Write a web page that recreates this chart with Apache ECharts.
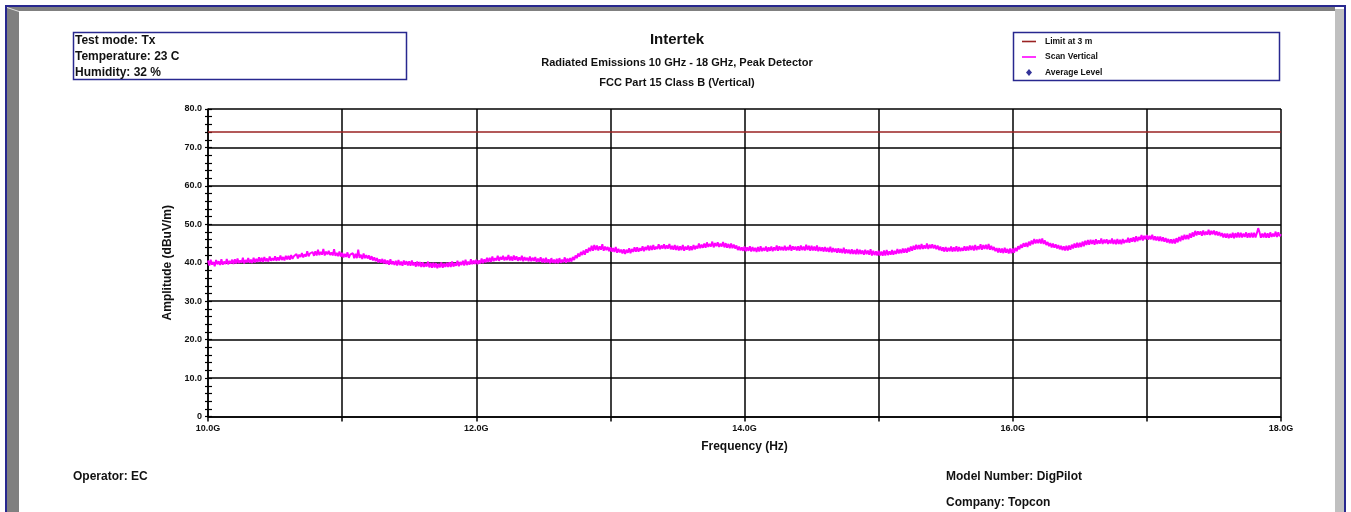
<!DOCTYPE html>
<html>
<head>
<meta charset="utf-8">
<script src="https://cdn.jsdelivr.net/npm/echarts@6/dist/echarts.min.js"></script>
<style>
html,body{margin:0;padding:0;background:#fff;}
#chart{width:1351px;height:512px;}
</style>
</head>
<body>
<div id="chart"></div>
<script>
// ---- data ----
const xTickValues = [10, 11, 12, 13, 14, 15, 16, 17, 18];
const yTickValues = [0, 10, 20, 30, 40, 50, 60, 70, 80];
const limitFreq = [10.0, 18.0];
const limitLevel = [74.0, 74.0];
const scanStartGHz = 10.0;
const scanStepGHz = 0.01;
// peak scan, dBuV/m, one row per 0.1 GHz
const scanLevel = [
  40.6, 39.3, 40.8, 39.5, 40.2, 39.1, 40.7, 39.6, 40.4, 39.4,
  40.9, 39.5, 40.3, 39.7, 41.0, 39.6, 40.5, 39.8, 40.8, 39.7,
  40.9, 39.8, 41.1, 39.9, 40.6, 40.0, 41.3, 39.8, 40.7, 40.1,
  41.2, 40.0, 40.8, 39.9, 41.3, 40.1, 41.0, 40.2, 41.4, 40.3,
  41.3, 40.2, 41.5, 40.4, 41.1, 40.3, 41.6, 40.5, 41.2, 40.6,
  41.7, 40.5, 41.4, 40.6, 41.9, 40.7, 41.5, 40.6, 41.8, 40.9,
  41.8, 40.8, 42.0, 41.0, 41.7, 41.2, 42.3, 41.1, 42.1, 41.5,
  42.5, 41.4, 42.2, 41.6, 43.0, 41.7, 42.4, 41.9, 42.8, 41.8,
  43.0, 41.9, 43.4, 42.0, 42.8, 42.1, 43.6, 41.9, 42.9, 42.2,
  43.1, 42.0, 42.7, 41.9, 43.5, 41.8, 42.6, 41.7, 42.9, 41.6,
  42.6, 41.4, 42.3, 41.5, 42.7, 41.3, 42.1, 41.6, 42.5, 41.2,
  42.3, 41.2, 43.4, 41.3, 42.1, 41.0, 42.4, 41.2, 42.0, 41.1,
  41.9, 40.8, 41.7, 40.6, 41.4, 40.4, 41.2, 40.1, 40.9, 40.0,
  41.0, 39.8, 40.8, 39.7, 40.6, 39.5, 40.9, 39.6, 40.4, 39.4,
  40.5, 39.3, 40.7, 39.4, 40.3, 39.2, 40.6, 39.5, 40.4, 39.3,
  40.4, 39.2, 40.6, 39.3, 40.1, 39.0, 40.3, 39.1, 40.2, 38.9,
  40.1, 38.9, 39.8, 39.0, 40.3, 38.8, 39.9, 38.7, 40.0, 38.8,
  39.9, 38.6, 39.7, 38.8, 40.1, 38.7, 39.8, 38.9, 40.0, 38.9,
  40.1, 38.9, 40.3, 39.0, 39.9, 39.2, 40.5, 39.1, 40.2, 39.4,
  40.5, 39.3, 40.8, 39.4, 40.3, 39.5, 40.9, 39.6, 40.6, 39.7,
  40.8, 39.6, 40.6, 39.8, 41.1, 39.9, 40.9, 40.1, 41.3, 40.2,
  41.3, 40.2, 41.6, 40.4, 41.2, 40.6, 41.8, 40.5, 41.5, 40.8,
  41.8, 40.6, 41.5, 40.7, 42.0, 40.6, 41.6, 40.5, 41.9, 40.7,
  41.7, 40.5, 41.4, 40.6, 41.8, 40.4, 41.5, 40.6, 41.3, 40.4,
  41.6, 40.4, 41.3, 40.5, 41.5, 40.2, 41.1, 40.3, 41.4, 40.1,
  41.1, 40.0, 41.3, 40.1, 40.9, 39.9, 41.2, 40.0, 40.8, 39.9,
  41.0, 39.9, 41.2, 40.0, 40.8, 40.1, 41.4, 40.0, 41.1, 40.2,
  41.2, 40.3, 41.5, 40.7, 41.9, 41.2, 42.4, 41.6, 42.8, 42.0,
  43.2, 42.1, 43.5, 42.6, 43.9, 43.0, 44.4, 43.1, 44.6, 43.3,
  44.5, 43.2, 44.3, 43.4, 44.8, 43.1, 44.2, 43.3, 44.1, 43.0,
  44.0, 42.9, 43.8, 42.8, 44.1, 42.6, 43.6, 42.7, 43.4, 42.4,
  43.5, 42.3, 43.4, 42.6, 43.8, 42.5, 43.6, 42.8, 44.0, 42.9,
  44.0, 42.9, 43.8, 43.1, 44.3, 43.0, 44.1, 43.3, 44.5, 43.2,
  44.4, 43.3, 44.6, 43.4, 44.2, 43.6, 44.8, 43.5, 44.5, 43.7,
  44.8, 43.6, 44.5, 43.7, 44.9, 43.5, 44.4, 43.4, 44.6, 43.3,
  44.4, 43.2, 44.3, 43.3, 44.6, 43.1, 44.2, 43.4, 44.5, 43.2,
  44.3, 43.3, 44.6, 43.5, 44.4, 43.7, 45.0, 43.8, 44.7, 43.9,
  45.0, 43.9, 45.3, 44.1, 44.9, 44.2, 45.5, 44.0, 45.1, 44.3,
  45.3, 44.1, 45.0, 44.2, 45.4, 44.0, 45.1, 43.9, 44.9, 43.8,
  45.0, 43.8, 44.7, 43.7, 44.5, 43.3, 44.2, 43.2, 44.0, 43.1,
  44.2, 43.0, 44.0, 43.1, 44.3, 42.9, 44.1, 43.0, 43.9, 42.8,
  44.1, 42.9, 44.3, 43.0, 43.9, 43.1, 44.2, 42.9, 44.0, 43.1,
  44.2, 43.0, 44.0, 43.2, 44.5, 43.1, 44.3, 43.3, 44.1, 43.2,
  44.4, 43.2, 44.1, 43.3, 44.6, 43.1, 44.3, 43.4, 44.2, 43.2,
  44.3, 43.1, 44.5, 43.3, 44.2, 43.2, 44.7, 43.3, 44.4, 43.1,
  44.4, 43.2, 44.2, 43.1, 44.5, 43.0, 44.1, 43.1, 44.0, 42.9,
  44.1, 42.9, 43.9, 42.8, 44.2, 42.7, 43.8, 42.8, 43.7, 42.6,
  43.8, 42.6, 43.6, 42.5, 43.9, 42.4, 43.5, 42.5, 43.4, 42.3,
  43.5, 42.3, 43.3, 42.2, 43.6, 42.2, 43.4, 42.3, 43.2, 42.1,
  43.4, 42.2, 43.2, 42.1, 43.5, 41.9, 43.1, 42.0, 43.0, 41.9,
  43.1, 41.9, 42.9, 41.8, 43.2, 41.9, 43.3, 42.0, 43.0, 42.1,
  43.3, 42.1, 43.1, 42.3, 43.6, 42.4, 43.4, 42.5, 43.7, 42.6,
  43.7, 42.6, 43.9, 42.9, 44.2, 43.1, 44.4, 43.4, 44.7, 43.5,
  44.6, 43.5, 44.9, 43.6, 44.5, 43.7, 45.0, 43.6, 44.7, 43.8,
  44.8, 43.7, 44.6, 43.5, 44.5, 43.3, 44.2, 43.1, 44.0, 42.9,
  44.1, 42.9, 43.9, 43.0, 44.2, 42.9, 44.0, 43.0, 44.3, 42.9,
  44.1, 43.0, 43.9, 43.1, 44.3, 43.1, 44.2, 43.2, 44.5, 43.3,
  44.4, 43.2, 44.6, 43.3, 44.3, 43.5, 44.8, 43.4, 44.6, 43.6,
  44.7, 43.5, 44.9, 43.4, 44.4, 43.3, 44.1, 43.0, 43.8, 42.7,
  43.8, 42.6, 43.7, 42.5, 43.9, 42.6, 43.6, 42.4, 43.7, 42.5,
  43.7, 42.6, 43.9, 43.0, 44.3, 43.5, 44.7, 43.9, 45.1, 44.2,
  45.2, 44.1, 45.5, 44.5, 45.8, 44.8, 46.2, 45.0, 46.0, 45.1,
  46.2, 45.0, 46.3, 44.9, 45.8, 44.6, 45.4, 44.3, 45.1, 44.0,
  45.0, 43.9, 44.8, 43.7, 44.6, 43.5, 44.4, 43.3, 44.3, 43.2,
  44.4, 43.2, 44.5, 43.4, 44.7, 43.7, 45.0, 43.9, 45.2, 44.0,
  45.2, 44.1, 45.5, 44.3, 45.7, 44.6, 45.9, 44.7, 46.0, 44.9,
  45.9, 44.7, 46.1, 44.9, 45.8, 45.0, 46.3, 44.9, 46.0, 45.1,
  46.1, 44.9, 45.9, 45.0, 46.3, 44.9, 46.0, 44.8, 46.2, 44.9,
  46.0, 44.8, 46.2, 45.1, 45.9, 45.3, 46.5, 45.2, 46.4, 45.5,
  46.6, 45.4, 46.9, 45.6, 46.7, 45.9, 47.2, 45.8, 47.0, 46.1,
  47.2, 46.0, 47.0, 46.1, 47.3, 45.9, 46.9, 45.8, 46.8, 45.7,
  46.8, 45.6, 46.6, 45.5, 46.4, 45.3, 46.2, 45.1, 46.1, 45.0,
  46.2, 45.0, 46.4, 45.3, 46.7, 45.6, 47.0, 45.9, 47.3, 46.1,
  47.2, 46.1, 47.6, 46.5, 47.9, 46.8, 48.3, 47.1, 48.2, 47.3,
  48.2, 47.0, 48.4, 47.2, 48.1, 47.3, 48.6, 47.2, 48.3, 47.4,
  48.4, 47.2, 48.2, 47.1, 48.0, 46.9, 47.7, 46.6, 47.6, 46.5,
  47.6, 46.4, 47.5, 46.5, 47.8, 46.4, 47.7, 46.6, 47.9, 46.6,
  47.8, 46.6, 47.6, 46.7, 47.9, 46.5, 47.7, 46.6, 47.8, 46.6,
  47.8, 46.6, 47.7, 49.0, 47.9, 46.5, 47.6, 46.6, 47.8, 46.5,
  47.7, 46.5, 47.9, 46.7, 47.6, 46.8, 48.1, 46.7, 47.9, 46.9,
  47.4
];
const avgFreq = [];
const avgLevel = [];
const infoLines = ['Test mode: Tx', 'Temperature: 23 C', 'Humidity: 32 %'];
const legendNames = ['Limit at 3 m', 'Scan Vertical', 'Average Level'];

// ---- chart ----
const FONT = '"Liberation Sans", Arial, sans-serif';
const chart = echarts.init(document.getElementById('chart'), null, {renderer: 'canvas'});
const scanData = scanLevel.map((v, i) => [scanStartGHz + i * scanStepGHz, v]);
const limitData = limitFreq.map((f, i) => [f, limitLevel[i]]);
const avgData = avgFreq.map((f, i) => [f, avgLevel[i]]);

const NAVY = '#28288f';
const LIMIT_COLOR = '#9a2222';
const SCAN_COLOR = '#ff00ff';
const AVG_COLOR = '#000080';
const frame = [
  {type:'rect', shape:{x:6,y:5,width:1340,height:2}, style:{fill:NAVY}},
  {type:'rect', shape:{x:5,y:5,width:2,height:507}, style:{fill:NAVY}},
  {type:'rect', shape:{x:1344,y:5,width:2,height:507}, style:{fill:NAVY}},
  {type:'rect', shape:{x:7,y:7,width:1328,height:4}, style:{fill:'#808080'}},
  {type:'rect', shape:{x:7,y:7,width:12,height:505}, style:{fill:'#808080'}},
  {type:'rect', shape:{x:1335,y:9,width:9,height:503}, style:{fill:'#c0c0c0'}},
  {type:'polygon', shape:{points:[[7,7],[19,11],[19,12],[7,8]]}, style:{fill:'#e0e0e0'}},
  {type:'rect', shape:{x:73.5,y:32.5,width:333,height:47}, style:{fill:'none', stroke:NAVY, lineWidth:1.5}},
  {type:'rect', shape:{x:1013.5,y:32.5,width:266,height:48}, style:{fill:'none', stroke:NAVY, lineWidth:1.5}}
];
const texts = [];
function addText(t, x, y) {
  texts.push({type:'text', x:x, y:y, style:{text:t, font:'bold 12px ' + FONT, fill:'#111', verticalAlign:'middle', textVerticalAlign:'middle'}});
}
infoLines.forEach((t, i) => addText(t, 75, 40.5 + i*16));
addText('Operator: EC', 73, 477);
addText('Model Number: DigPilot', 946, 477);
addText('Company: Topcon', 946, 503);

const axisLabelStyle = {fontFamily: FONT, fontSize: 9, fontWeight: 'bold', color: '#111'};
const LINE_ICON = 'path://M0,0L14,0L14,1.6L0,1.6Z';
const option = {
  animation: false,
  backgroundColor: '#fff',
  textStyle: {fontFamily: FONT},
  title: {
    text: 'Intertek',
    subtext: 'Radiated Emissions 10 GHz - 18 GHz, Peak Detector\nFCC Part 15 Class B (Vertical)',
    left: 672, top: 27, textAlign: 'center', itemGap: 6,
    textStyle: {fontFamily: FONT, fontSize: 15, fontWeight: 'bold', color: '#111'},
    subtextStyle: {fontFamily: FONT, fontSize: 11, fontWeight: 'bold', color: '#111', lineHeight: 20}
  },
  legend: {
    data: [
      {name: legendNames[0], icon: LINE_ICON},
      {name: legendNames[1], icon: LINE_ICON},
      {name: legendNames[2], icon: 'path://M3,0L6,3.5L3,7L0,3.5Z'}
    ],
    orient: 'vertical', left: 1022, top: 37,
    itemWidth: 14, itemHeight: 7, itemGap: 6.5, padding: 0,
    textStyle: {fontFamily: FONT, fontSize: 8.5, fontWeight: 'bold', color: '#111', padding: [0, 0, 0, 4]}
  },
  grid: {left: 208, right: 70, top: 109, bottom: 95.5, containLabel: false},
  xAxis: {
    type: 'value', min: 10, max: 18, interval: 1,
    name: 'Frequency (Hz)', nameLocation: 'middle', nameGap: 24,
    nameTextStyle: {fontFamily: FONT, fontSize: 12, fontWeight: 'bold', color: '#111'},
    axisLine: {show: true, lineStyle: {color: '#000', width: 1.5}},
    axisTick: {show: true, length: 5, lineStyle: {color: '#000', width: 1.5}},
    axisLabel: Object.assign({margin: 8, formatter: v => (xTickValues.indexOf(v) >= 0 && v % 2 === 0) ? v.toFixed(1) + 'G' : ''}, axisLabelStyle),
    splitLine: {show: true, lineStyle: {color: '#000', width: 1.5}}
  },
  yAxis: [{
    type: 'value', min: 0, max: 80, interval: 10,
    name: 'Amplitude (dBuV/m)', nameLocation: 'middle', nameGap: 34, nameRotate: 90,
    nameTextStyle: {fontFamily: FONT, fontSize: 12, fontWeight: 'bold', color: '#111'},
    axisLine: {show: true, lineStyle: {color: '#000', width: 1.5}},
    axisTick: {show: true, length: 3, lineStyle: {color: '#000', width: 1.2}},
    minorTick: {show: true, splitNumber: 5, length: 3, lineStyle: {color: '#000', width: 1.2}},
    axisLabel: Object.assign({margin: 6, formatter: v => (yTickValues.indexOf(v) >= 0 ? (v === 0 ? '0' : v.toFixed(1)) : '')}, axisLabelStyle),
    splitLine: {show: true, lineStyle: {color: '#000', width: 1.5}}
  }, {
    type: 'value', min: 0, max: 80, interval: 10, position: 'left',
    axisLine: {show: false},
    axisTick: {show: true, inside: true, length: 4, lineStyle: {color: '#000', width: 1.2}},
    minorTick: {show: true, splitNumber: 5, length: 4, lineStyle: {color: '#000', width: 1.2}},
    axisLabel: {show: false},
    splitLine: {show: false}
  }],
  series: [{
    name: legendNames[0], type: 'line', data: limitData, symbol: 'none', z: 4,
    itemStyle: {color: LIMIT_COLOR}, lineStyle: {color: LIMIT_COLOR, width: 1.5}
  }, {
    name: legendNames[1], type: 'line', data: scanData, symbol: 'none', showSymbol: false, z: 3,
    itemStyle: {color: SCAN_COLOR}, lineStyle: {color: SCAN_COLOR, width: 1.9}
  }, {
    name: legendNames[2], type: 'scatter', data: avgData, symbol: 'diamond', symbolSize: 6,
    itemStyle: {color: AVG_COLOR}
  }],
  graphic: frame.concat(texts)
};
chart.setOption(option);
</script>
</body>
</html>
